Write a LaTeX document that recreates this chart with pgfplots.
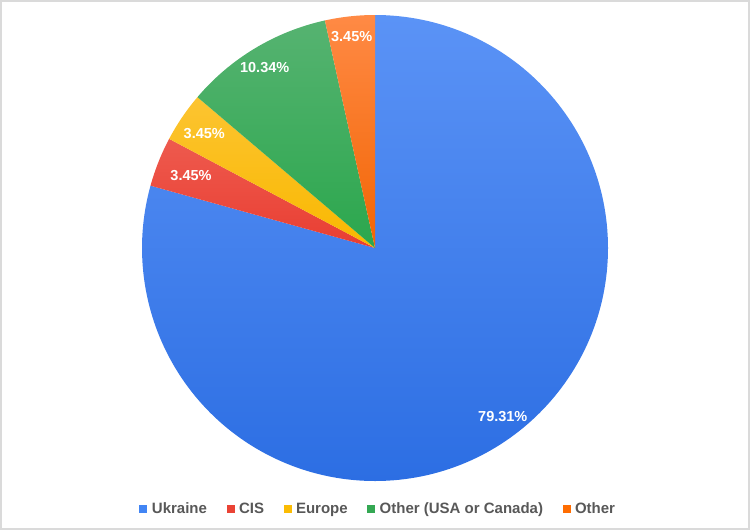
\documentclass[border=0pt]{standalone}
\usepackage{pgfplots}
\pgfplotsset{compat=1.18}
\usepackage{pgfplotstable}
\usepackage{fontspec}
\setmainfont{Liberation Sans}

\definecolor{blueT}{HTML}{5B93F6}
\definecolor{blueB}{HTML}{2C6EE3}
\definecolor{blueL}{HTML}{4285F4}
\definecolor{redT}{HTML}{EE5A4E}
\definecolor{redB}{HTML}{E93E32}
\definecolor{redL}{HTML}{EA4335}
\definecolor{yelT}{HTML}{FCC431}
\definecolor{yelB}{HTML}{F9B800}
\definecolor{yelL}{HTML}{FBBC04}
\definecolor{grnT}{HTML}{56B371}
\definecolor{grnB}{HTML}{2BA74D}
\definecolor{grnL}{HTML}{34A853}
\definecolor{orgT}{HTML}{FF8A45}
\definecolor{orgB}{HTML}{F26504}
\definecolor{orgL}{HTML}{FF6D01}
\definecolor{legtext}{RGB}{88,88,88}
\definecolor{framecol}{RGB}{218,218,218}

\tikzset{lbl/.style={text=white, font=\fontsize{14.5}{17}\selectfont\bfseries, inner sep=0pt}}
\newcommand\pct[1]{\pgfmathprintnumber[fixed,precision=2,fixed zerofill,assume math mode=true]{#1}\%}

% shares in percent (clockwise from 12 o'clock)
\pgfplotstableread{
name share
Ukraine 79.31
CIS 3.45
Europe 3.45
OtherUSACanada 10.34
Other 3.45
}\piedata

\begin{document}%
\begin{tikzpicture}
\pgfplotstablegetelem{0}{share}\of\piedata\global\let\vA\pgfplotsretval
\pgfplotstablegetelem{1}{share}\of\piedata\global\let\vB\pgfplotsretval
\pgfplotstablegetelem{2}{share}\of\piedata\global\let\vC\pgfplotsretval
\pgfplotstablegetelem{3}{share}\of\piedata\global\let\vD\pgfplotsretval
\pgfplotstablegetelem{4}{share}\of\piedata\global\let\vE\pgfplotsretval
\pgfmathsetmacro\aA{90}\global\let\aA\aA
\pgfmathsetmacro\aB{\aA-3.6*\vA}\global\let\aB\aB
\pgfmathsetmacro\aC{\aB-3.6*\vB}\global\let\aC\aC
\pgfmathsetmacro\aD{\aC-3.6*\vC}\global\let\aD\aD
\pgfmathsetmacro\aE{\aD-3.6*\vD}\global\let\aE\aE
\pgfmathsetmacro\aF{\aE-3.6*\vE}\global\let\aF\aF
\begin{axis}[
  width=750pt, height=530pt, scale only axis,
  xmin=0, xmax=750, ymin=0, ymax=530, y dir=reverse,
  hide axis, clip=false,
  legend columns=-1,
  legend style={at={(0.503,0.04)}, anchor=center, draw=none, fill=none,
    font=\fontsize{15}{18}\selectfont\bfseries, text=legtext,
    /tikz/every odd column/.append style={column sep=4.5pt},
    /tikz/every even column/.append style={column sep=19.5pt},
    nodes={inner sep=0pt}},
  sq/.style={legend image code/.code={\fill[##1, draw=none] (0pt,-4pt) rectangle (8pt,4pt);}},
]
\addlegendimage{sq, fill=blueL}\addlegendentry{Ukraine}
\addlegendimage{sq, fill=redL}\addlegendentry{CIS}
\addlegendimage{sq, fill=yelL}\addlegendentry{Europe}
\addlegendimage{sq, fill=grnL}\addlegendentry{Other (USA or Canada)}
\addlegendimage{sq, fill=orgL}\addlegendentry{Other}

\draw[framecol, line width=2pt] (axis cs:1,1) rectangle (axis cs:749,529);

\path[top color=blueT, bottom color=blueB] (axis cs:375,248) -- ++(\aA:233pt) arc[start angle=\aA, end angle=\aB, radius=233pt] -- cycle;
\path[top color=redT, bottom color=redB] (axis cs:375,248) -- ++(\aB:233pt) arc[start angle=\aB, end angle=\aC, radius=233pt] -- cycle;
\path[top color=yelT, bottom color=yelB] (axis cs:375,248) -- ++(\aC:233pt) arc[start angle=\aC, end angle=\aD, radius=233pt] -- cycle;
\path[top color=grnT, bottom color=grnB] (axis cs:375,248) -- ++(\aD:233pt) arc[start angle=\aD, end angle=\aE, radius=233pt] -- cycle;
\path[top color=orgT, bottom color=orgB] (axis cs:375,248) -- ++(\aE:233pt) arc[start angle=\aE, end angle=\aF, radius=233pt] -- cycle;

\node[lbl] at (axis cs:502.8,417) {\pct{\vA}};
\node[lbl] at (axis cs:191,176) {\pct{\vB}};
\node[lbl] at (axis cs:204.3,134) {\pct{\vC}};
\node[lbl] at (axis cs:264.7,67.5) {\pct{\vD}};
\node[lbl] at (axis cs:351.7,36.7) {\pct{\vE}};
\end{axis}
\end{tikzpicture}%
\end{document}
